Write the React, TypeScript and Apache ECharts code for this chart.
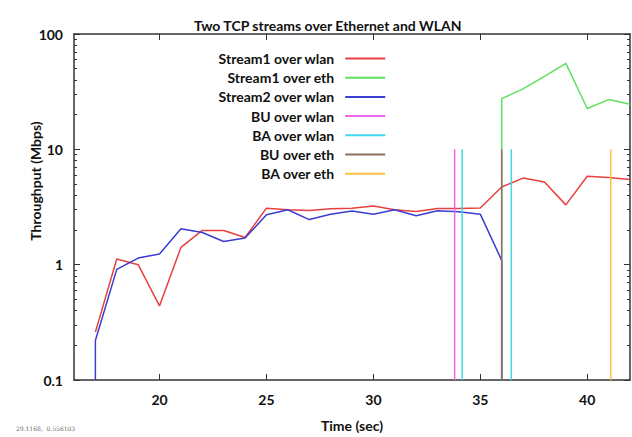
import React, { useEffect, useRef } from "react";
import * as echarts from "echarts";

const titleText = "Two TCP streams over Ethernet and WLAN";
const xTickValues = [20, 25, 30, 35, 40];
const yMajorValues = [0.1, 1, 10, 100];
const yMinorValues = [
  0.2, 0.3, 0.4, 0.5, 0.6, 0.7, 0.8, 0.9,
  2, 3, 4, 5, 6, 7, 8, 9,
  20, 30, 40, 50, 60, 70, 80, 90,
];

const s1WlanTimes = [17, 18, 19, 20, 21, 22, 23, 24, 25, 26, 27, 28, 29, 30, 31, 32, 33, 34, 35, 36, 37, 38, 39, 40, 41, 42];
const s1WlanValues = [0.26, 1.12, 1.0, 0.44, 1.41, 1.98, 1.98, 1.72, 3.09, 2.99, 2.95, 3.05, 3.09, 3.23, 2.99, 2.89, 3.07, 3.07, 3.1, 4.72, 5.63, 5.2, 3.3, 5.85, 5.7, 5.48];

const s1EthTimes = [36, 36, 37, 38, 39, 40, 41, 42];
const s1EthValues = [0.1, 27.5, 33.4, 43, 55.6, 22.6, 27, 24.6];

const s2WlanTimes = [17, 17, 18, 19, 20, 21, 22, 23, 24, 25, 26, 27, 28, 29, 30, 31, 32, 33, 34, 35, 36, 36];
const s2WlanValues = [0.1, 0.22, 0.91, 1.14, 1.24, 2.05, 1.9, 1.59, 1.7, 2.71, 2.99, 2.46, 2.74, 2.92, 2.74, 2.99, 2.66, 2.93, 2.88, 2.74, 1.09, 0.1];

const buWlanTimes = [33.8];
const baWlanTimes = [34.15, 36.45];
const buEthTimes = [36.0];
const baEthTimes = [41.1];
const markerRange = [0.1, 10];

const names = [
  "Stream1 over wlan",
  "Stream1 over eth",
  "Stream2 over wlan",
  "BU over wlan",
  "BA over wlan",
  "BU over eth",
  "BA over eth",
];
const colors = ["#e84040", "#5ee05e", "#3c3cd0", "#ee66ee", "#40d8e8", "#8a7060", "#f8c040"];

const pairs = (xs: number[], ys: number[]) => xs.map((x, i) => [x, ys[i]]);
const markers = (ts: number[]) => {
  const out: any[] = [];
  ts.forEach((t, i) => {
    if (i > 0) out.push([t, "-"]);
    out.push([t, markerRange[0]]);
    out.push([t, markerRange[1]]);
  });
  return out;
};

const FONT = "Lato";
const axisColor = "#333";

export default function App() {
  const ref = useRef<HTMLDivElement>(null);
  useEffect(() => {
    if (!ref.current) return;
    const chart = echarts.init(ref.current, null, { renderer: "svg" });
    const lineSeries = (name: string, data: any[], color: string, z: number) => ({
      name,
      type: "line",
      data,
      showSymbol: false,
      symbol: "none",
      connectNulls: false,
      z,
      lineStyle: { color, width: 1.5 },
      itemStyle: { color },
    });
    const yBase = {
      type: "log",
      logBase: 10,
      min: 0.1,
      max: 100,
      splitLine: { show: false },
      axisLabel: { show: false },
    };
    chart.setOption({
      animation: false,
      backgroundColor: "#ffffff",
      title: {
        text: titleText,
        left: 189,
        top: 13,
        textStyle: { fontFamily: FONT, fontSize: 14, fontWeight: "bold", color: "#111" },
      },
      legend: {
        orient: "vertical",
        align: "right",
        left: 218,
        top: 51,
        padding: 0,
        itemGap: 4.2,
        itemWidth: 40,
        itemHeight: 2,
        icon: "rect",
        data: names,
        textStyle: {
          fontFamily: FONT,
          fontSize: 14,
          fontWeight: "bold",
          color: "#111",
          lineHeight: 15,
          padding: [0, 6, 0, 0],
        },
      },
      grid: { left: 74, right: 2, top: 34, bottom: 50 },
      xAxis: [
        {
          type: "value",
          min: 16,
          max: 42,
          position: "bottom",
          name: "Time (sec)",
          nameLocation: "middle",
          nameGap: 38,
          nameTextStyle: { fontFamily: FONT, fontSize: 14, fontWeight: "bold", color: "#111" },
          axisLine: { show: true, lineStyle: { color: axisColor, width: 1.5 } },
          axisTick: { show: true, inside: true, length: 6, customValues: xTickValues, lineStyle: { color: axisColor } },
          axisLabel: {
            customValues: xTickValues,
            margin: 12,
            fontFamily: FONT,
            fontSize: 14,
            fontWeight: "bold",
            color: "#111",
          },
          splitLine: { show: false },
        },
        {
          type: "value",
          min: 16,
          max: 42,
          position: "top",
          axisLine: { show: true, lineStyle: { color: axisColor, width: 1.5 } },
          axisTick: { show: true, inside: true, length: 6, customValues: xTickValues, lineStyle: { color: axisColor } },
          axisLabel: { show: false },
          splitLine: { show: false },
        },
      ],
      yAxis: [
        {
          ...yBase,
          position: "left",
          axisLine: { show: true, lineStyle: { color: axisColor, width: 1.5 } },
          axisTick: { show: true, inside: true, length: 6, customValues: yMajorValues, lineStyle: { color: axisColor } },
          axisLabel: {
            show: true,
            customValues: yMajorValues,
            margin: 11,
            fontFamily: FONT,
            fontSize: 14,
            fontWeight: "bold",
            color: "#111",
            formatter: (v: number) => String(v),
          },
        },
        {
          ...yBase,
          position: "left",
          axisLine: { show: false },
          axisTick: { show: true, inside: true, length: 3, customValues: yMinorValues, lineStyle: { color: axisColor } },
        },
        {
          ...yBase,
          position: "right",
          axisLine: { show: true, lineStyle: { color: axisColor, width: 1.5 } },
          axisTick: { show: true, inside: true, length: 6, customValues: yMajorValues, lineStyle: { color: axisColor } },
        },
        {
          ...yBase,
          position: "right",
          axisLine: { show: false },
          axisTick: { show: true, inside: true, length: 3, customValues: yMinorValues, lineStyle: { color: axisColor } },
        },
      ],
      graphic: [
        {
          type: "text",
          x: 35,
          y: 181,
          rotation: Math.PI / 2,
          style: {
            text: "Throughput (Mbps)",
            fontFamily: FONT,
            fontSize: 14,
            fontWeight: "bold",
            fill: "#111",
            align: "center",
            verticalAlign: "middle",
          },
        },
        {
          type: "text",
          x: 16,
          y: 428,
          style: {
            text: "29.1168,  0.556103",
            fontFamily: "DejaVu Serif",
            fontSize: 6,
            fill: "#666",
            align: "left",
            verticalAlign: "middle",
          },
        },
      ],
      series: [
        lineSeries(names[0], pairs(s1WlanTimes, s1WlanValues), colors[0], 3),
        lineSeries(names[1], pairs(s1EthTimes, s1EthValues), colors[1], 2),
        lineSeries(names[2], pairs(s2WlanTimes, s2WlanValues), colors[2], 3),
        lineSeries(names[3], markers(buWlanTimes), colors[3], 4),
        lineSeries(names[4], markers(baWlanTimes), colors[4], 4),
        lineSeries(names[5], markers(buEthTimes), colors[5], 4),
        lineSeries(names[6], markers(baEthTimes), colors[6], 4),
      ],
    });
    return () => chart.dispose();
  }, []);
  return <div ref={ref} style={{ width: 632, height: 437, position: "absolute", left: 0, top: 0 }} />;
}
